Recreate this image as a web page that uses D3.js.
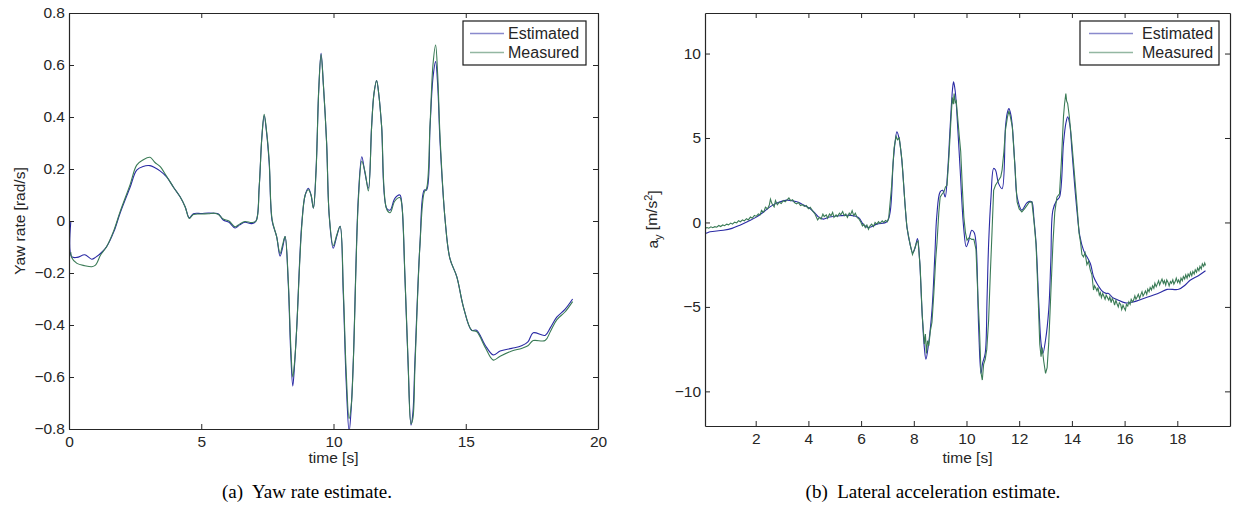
<!DOCTYPE html>
<html>
<head>
<meta charset="utf-8">
<script src="https://cdn.jsdelivr.net/npm/d3@7"></script>
<style>
  body { margin: 0; background: #fff; }
  svg { display: block; }
  .caption { font-family: "Liberation Serif", "Times New Roman", serif; fill: #000; white-space: pre; }
</style>
</head>
<body>
<div id="chart"></div>
<script>
// ----------------------------------
// DATA
// ----------------------------------

// (a) yaw rate [rad/s] vs time [s], as [t, value]
const yawEstimated = [
  [0.07,0.00],[0.1,-0.137],[0.3,-0.14],[0.6,-0.13],[0.86,-0.147],[1.0,-0.14],[1.2,-0.124],[1.42,-0.099],[1.7,-0.04],[1.93,0.03],
  [2.31,0.13],[2.56,0.196],[2.8,0.21],[3.06,0.213],[3.25,0.205],[3.44,0.193],[3.69,0.17],[3.95,0.13],[4.2,0.093],[4.39,0.055],
  [4.55,0.012],[4.7,0.028],[5.0,0.029],[5.27,0.031],[5.5,0.03],[5.65,0.027],[5.83,0.004],[6.05,-0.005],[6.28,-0.027],[6.45,-0.015],
  [6.65,-0.005],[6.91,-0.01],[7.07,0.0],[7.19,0.13],[7.29,0.32],[7.38,0.405],[7.47,0.34],[7.57,0.22],[7.68,0.0],[7.85,-0.06],
  [7.98,-0.135],[8.08,-0.1],[8.17,-0.06],[8.29,-0.24],[8.38,-0.5],[8.46,-0.635],[8.53,-0.55],[8.61,-0.41],[8.8,-0.01],[8.93,0.1],
  [9.05,0.126],[9.15,0.1],[9.24,0.049],[9.34,0.196],[9.44,0.5],[9.53,0.645],[9.62,0.52],[9.74,0.30],[9.84,0.017],[9.99,-0.105],
  [10.12,-0.06],[10.25,-0.02],[10.37,-0.28],[10.48,-0.62],[10.59,-0.81],[10.67,-0.72],[10.75,-0.535],[10.94,0.094],[11.07,0.247],[11.19,0.184],
  [11.32,0.126],[11.44,0.363],[11.53,0.49],[11.63,0.54],[11.72,0.48],[11.82,0.363],[12.01,0.049],[12.14,0.042],[12.32,0.087],[12.51,0.10],
  [12.58,0.068],[12.70,-0.214],[12.82,-0.55],[12.93,-0.785],[13.0,-0.74],[13.08,-0.535],[13.27,-0.086],[13.43,0.119],[13.52,0.119],[13.65,0.363],
  [13.76,0.55],[13.86,0.613],[13.94,0.52],[14.03,0.30],[14.22,0.004],[14.40,-0.144],[14.66,-0.214],[14.91,-0.33],[15.22,-0.42],[15.41,-0.42],
  [15.73,-0.477],[16.04,-0.515],[16.30,-0.50],[16.74,-0.49],[17.11,-0.48],[17.35,-0.465],[17.55,-0.43],[18.0,-0.44],[18.2,-0.41],[18.44,-0.37],
  [18.75,-0.34],[19.04,-0.30]
];
const yawMeasured = [
  [0.07,-0.12],[0.1,-0.14],[0.3,-0.163],[0.6,-0.172],[0.86,-0.176],[1.0,-0.17],[1.2,-0.13],[1.42,-0.099],[1.7,-0.035],[1.93,0.035],
  [2.31,0.14],[2.56,0.215],[2.8,0.235],[3.06,0.245],[3.25,0.225],[3.44,0.21],[3.69,0.172],[3.95,0.13],[4.2,0.093],[4.39,0.055],
  [4.55,0.01],[4.7,0.025],[5.0,0.027],[5.27,0.028],[5.5,0.03],[5.65,0.025],[5.83,0.008],[6.05,0.0],[6.28,-0.022],[6.45,-0.012],
  [6.65,-0.002],[6.91,-0.006],[7.07,0.0],[7.19,0.13],[7.29,0.32],[7.38,0.41],[7.47,0.345],[7.57,0.23],[7.68,0.005],[7.85,-0.06],
  [7.98,-0.125],[8.08,-0.09],[8.17,-0.06],[8.29,-0.23],[8.38,-0.47],[8.46,-0.60],[8.53,-0.54],[8.61,-0.41],[8.8,-0.02],[8.93,0.1],
  [9.05,0.12],[9.15,0.1],[9.24,0.05],[9.34,0.19],[9.44,0.5],[9.53,0.64],[9.62,0.52],[9.74,0.30],[9.84,0.02],[9.99,-0.095],
  [10.12,-0.055],[10.25,-0.02],[10.37,-0.26],[10.48,-0.58],[10.59,-0.76],[10.67,-0.71],[10.75,-0.54],[10.94,0.08],[11.07,0.23],[11.19,0.19],
  [11.32,0.116],[11.44,0.36],[11.53,0.49],[11.63,0.54],[11.72,0.48],[11.82,0.363],[12.01,0.045],[12.14,0.032],[12.32,0.077],[12.51,0.09],
  [12.58,0.065],[12.70,-0.21],[12.82,-0.54],[12.93,-0.78],[13.0,-0.76],[13.08,-0.56],[13.27,-0.09],[13.43,0.11],[13.52,0.125],[13.65,0.37],
  [13.76,0.6],[13.86,0.677],[13.94,0.56],[14.03,0.32],[14.22,0.004],[14.40,-0.144],[14.66,-0.214],[14.91,-0.33],[15.22,-0.42],[15.41,-0.425],
  [15.73,-0.485],[16.04,-0.535],[16.30,-0.52],[16.74,-0.50],[17.11,-0.49],[17.35,-0.48],[17.55,-0.46],[18.0,-0.46],[18.2,-0.425],[18.44,-0.38],
  [18.75,-0.35],[19.04,-0.31]
];

// (b) lateral acceleration a_y [m/s^2] vs time [s], as [t, value]
const latEstimated = [
  [0.08,0.6],[0.1,-0.62],[0.27,-0.55],[0.77,-0.46],[1.1,-0.35],[1.4,-0.16],[1.7,0.06],[2.04,0.33],[2.3,0.62],[2.54,0.92],
  [2.85,1.18],[3.18,1.32],[3.56,1.22],[3.8,1.05],[4.06,0.83],[4.25,0.55],[4.38,0.33],[4.57,0.2],[4.8,0.32],[5.2,0.4],
  [5.6,0.42],[5.9,0.3],[6.1,-0.15],[6.3,-0.3],[6.6,-0.1],[6.98,0.04],[7.1,0.6],[7.23,3.8],[7.36,5.36],[7.45,4.9],
  [7.55,3.6],[7.67,1.0],[7.74,-0.26],[7.86,-1.3],[7.96,-1.8],[8.05,-1.5],[8.14,-0.95],[8.22,-2.2],[8.31,-5.19],[8.40,-7.4],
  [8.46,-8.1],[8.56,-7.2],[8.69,-5.19],[8.8,-1.9],[8.87,0.33],[9.0,1.81],[9.1,1.9],[9.19,1.51],[9.28,2.9],[9.38,5.66],
  [9.47,7.9],[9.51,8.32],[9.57,7.8],[9.63,6.6],[9.76,3.1],[9.89,-0.26],[9.99,-1.44],[10.08,-1.1],[10.2,-0.46],[10.29,-0.6],
  [10.36,-1.2],[10.46,-6.18],[10.55,-8.94],[10.61,-8.34],[10.71,-7.75],[10.78,-4.5],[10.84,-1.24],[10.93,1.5],[11.03,3.2],[11.1,3.1],
  [11.22,2.3],[11.35,2.0],[11.48,5.66],[11.55,6.5],[11.61,6.74],[11.68,6.4],[11.74,5.66],[11.84,3.3],[11.92,1.51],[12.1,0.73],
  [12.29,1.16],[12.4,1.25],[12.48,1.22],[12.56,0.2],[12.64,-1.24],[12.75,-5.0],[12.83,-7.16],[12.9,-7.75],[13.0,-6.96],[13.12,-5.19],
  [13.2,-2.3],[13.28,0.73],[13.43,1.32],[13.53,1.5],[13.68,4.67],[13.77,5.86],[13.84,6.25],[13.92,5.8],[14.0,4.28],[14.1,2.3],
  [14.19,0.73],[14.3,-0.8],[14.44,-1.64],[14.7,-2.43],[14.82,-3.2],[14.95,-3.61],[15.14,-4.05],[15.3,-4.2],[15.39,-4.2],[15.55,-4.45],
  [15.71,-4.56],[16.03,-4.76],[16.34,-4.7],[16.72,-4.5],[17.1,-4.3],[17.35,-4.15],[17.61,-3.96],[18.05,-3.96],[18.3,-3.7],[18.5,-3.41],
  [18.8,-3.15],[19.07,-2.86]
];
const latMeasured = [
  [0.08,-0.36],[0.15,-0.3],[0.22,-0.34],[0.3,-0.26],[0.37,-0.31],[0.45,-0.25],[0.52,-0.28],[0.6,-0.18],[0.67,-0.24],[0.75,-0.15],
  [0.82,-0.19],[0.9,-0.1],[0.97,-0.14],[1.05,-0.04],[1.12,-0.1],[1.2,0.02],[1.28,-0.03],[1.35,0.1],[1.42,0.04],[1.5,0.15],
  [1.57,0.09],[1.65,0.22],[1.72,0.15],[1.8,0.32],[1.87,0.25],[1.95,0.42],[2.02,0.36],[2.1,0.5],[2.17,0.45],[2.22,0.72],
  [2.3,0.6],[2.37,0.9],[2.45,0.8],[2.52,1.05],[2.56,1.38],[2.62,1.1],[2.7,0.92],[2.75,1.3],[2.82,1.05],[2.9,1.2],
  [2.97,1.12],[3.05,1.3],[3.12,1.22],[3.2,1.35],[3.26,1.45],[3.33,1.28],[3.4,1.35],[3.47,1.18],[3.55,1.1],[3.62,1.18],
  [3.7,1.0],[3.77,1.05],[3.85,0.95],[3.92,1.0],[4.0,0.82],[4.07,0.9],[4.15,0.7],[4.25,0.5],[4.35,0.15],[4.42,0.3],
  [4.48,0.2],[4.55,0.5],[4.6,0.35],[4.68,0.45],[4.73,0.25],[4.8,0.5],[4.86,0.4],[4.92,0.6],[4.97,0.3],[5.05,0.45],
  [5.1,0.35],[5.18,0.55],[5.23,0.45],[5.3,0.65],[5.36,0.4],[5.42,0.5],[5.48,0.3],[5.55,0.55],[5.6,0.45],[5.66,0.7],
  [5.72,0.4],[5.78,0.55],[5.85,0.3],[5.92,0.2],[5.98,0.05],[6.05,-0.2],[6.1,-0.1],[6.16,-0.3],[6.22,-0.15],[6.28,-0.4],
  [6.34,-0.2],[6.4,-0.1],[6.47,-0.25],[6.53,0.0],[6.6,-0.1],[6.66,0.05],[6.72,-0.05],[6.8,0.1],[6.86,0.0],[6.93,0.12],
  [7.0,0.05],[7.05,0.3],[7.15,2.0],[7.25,4.4],[7.33,5.1],[7.38,4.9],[7.45,5.0],[7.55,3.7],[7.67,1.0],[7.74,-0.3],
  [7.86,-1.3],[7.95,-1.9],[8.02,-1.6],[8.1,-1.2],[8.16,-1.1],[8.24,-2.6],[8.32,-5.5],[8.4,-7.2],[8.44,-6.6],[8.48,-7.75],
  [8.52,-7.0],[8.57,-7.3],[8.63,-6.4],[8.69,-5.9],[8.76,-4.2],[8.83,-2.2],[8.88,-1.2],[8.95,0.6],[9.0,1.5],[9.08,1.7],
  [9.14,1.8],[9.2,2.1],[9.26,2.2],[9.33,3.8],[9.4,5.8],[9.46,7.4],[9.5,7.0],[9.53,7.63],[9.57,7.1],[9.61,7.2],
  [9.66,6.3],[9.72,5.2],[9.78,4.2],[9.85,1.8],[9.9,0.3],[9.96,-0.6],[10.02,-1.05],[10.1,-0.9],[10.2,-1.0],[10.28,-1.0],
  [10.36,-1.6],[10.43,-4.3],[10.49,-6.2],[10.55,-8.9],[10.6,-9.33],[10.65,-8.4],[10.71,-8.1],[10.77,-7.5],[10.84,-5.78],[10.9,-3.2],
  [10.97,-0.5],[11.03,1.9],[11.1,2.2],[11.22,2.5],[11.3,2.7],[11.35,3.1],[11.42,4.2],[11.48,5.5],[11.55,6.2],[11.61,6.6],
  [11.66,6.3],[11.74,5.66],[11.83,3.5],[11.92,1.22],[12.0,0.8],[12.1,0.63],[12.2,0.8],[12.29,1.0],[12.38,1.2],[12.48,1.22],
  [12.56,0.1],[12.64,-1.3],[12.72,-4.5],[12.78,-7.2],[12.83,-7.95],[12.87,-7.4],[12.93,-8.2],[13.0,-8.94],[13.06,-8.6],[13.12,-7.16],
  [13.2,-4.2],[13.28,-1.24],[13.35,0.6],[13.43,1.5],[13.53,1.7],[13.6,3.6],[13.68,6.25],[13.72,7.0],[13.77,7.63],[13.8,7.2],
  [13.84,7.04],[13.9,6.3],[14.0,4.67],[14.1,2.8],[14.19,1.1],[14.27,-0.6],[14.33,-1.2],[14.38,-1.9],[14.44,-2.04],[14.5,-1.8],
  [14.57,-2.5],[14.63,-2.3],[14.7,-2.82],[14.76,-3.1],[14.82,-4.0],[14.86,-3.75],[14.91,-3.9],[14.95,-4.05],[14.99,-3.85],[15.04,-4.3],
  [15.08,-4.15],[15.12,-4.45],[15.17,-4.2],[15.21,-4.35],[15.26,-4.55],[15.3,-4.3],[15.35,-4.45],[15.4,-4.6],[15.44,-4.4],[15.49,-4.75],
  [15.53,-4.5],[15.58,-4.65],[15.62,-4.9],[15.67,-4.6],[15.71,-4.8],[15.76,-5.0],[15.8,-4.75],[15.85,-4.85],[15.89,-5.15],[15.94,-4.9],
  [15.98,-5.05],[16.03,-5.2],[16.07,-4.85],[16.12,-4.95],[16.16,-4.7],[16.21,-4.85],[16.25,-4.55],[16.3,-4.7],[16.34,-4.6],[16.39,-4.35],
  [16.43,-4.55],[16.48,-4.4],[16.52,-4.25],[16.57,-4.5],[16.61,-4.3],[16.66,-4.1],[16.7,-4.35],[16.75,-4.2],[16.79,-4.05],[16.84,-4.25],
  [16.88,-3.95],[16.93,-4.1],[16.97,-3.85],[17.02,-4.0],[17.06,-3.75],[17.11,-3.9],[17.15,-3.6],[17.2,-3.8],[17.24,-3.65],[17.29,-3.45],
  [17.33,-3.7],[17.38,-3.5],[17.42,-3.35],[17.47,-3.6],[17.51,-3.45],[17.56,-3.7],[17.6,-3.4],[17.65,-3.55],[17.69,-3.75],[17.74,-3.5],
  [17.78,-3.6],[17.83,-3.4],[17.87,-3.65],[17.92,-3.5],[17.96,-3.3],[18.01,-3.55],[18.05,-3.4],[18.1,-3.6],[18.14,-3.3],[18.19,-3.45],
  [18.23,-3.2],[18.28,-3.35],[18.32,-3.1],[18.37,-3.3],[18.41,-3.05],[18.46,-3.2],[18.5,-2.95],[18.55,-3.15],[18.59,-2.9],[18.64,-3.05],
  [18.68,-2.8],[18.73,-2.95],[18.77,-2.7],[18.82,-2.85],[18.86,-2.6],[18.91,-2.75],[18.95,-2.45],[19.0,-2.6],[19.04,-2.4],[19.07,-2.55]
];

// tick values
const yawXTicks = [0, 5, 10, 15, 20];
const yawYTicks = [-0.8, -0.6, -0.4, -0.2, 0, 0.2, 0.4, 0.6, 0.8];
const latXTicks = [2, 4, 6, 8, 10, 12, 14, 16, 18];
const latYTicks = [-10, -5, 0, 5, 10];

const seriesNames = ['Estimated', 'Measured'];
const estColor = '#2a2aa4';
const measColor = '#3a7b56';
const axisColor = '#262626';
const fontFamily = '"Liberation Sans", Arial, Helvetica, sans-serif';

// ----------------------------------
// SVG
// ----------------------------------
const width = 1240, height = 513;
const svg = d3.select('#chart')
  .append('svg')
  .attr('width', width)
  .attr('height', height);

function drawPanel(opt) {
  const x = d3.scaleLinear().domain(opt.xDomain).range([opt.left, opt.right]);
  const y = d3.scaleLinear().domain(opt.yDomain).range([opt.bottom, opt.top]);

  svg.append('clipPath')
    .attr('id', opt.id + '-clip')
    .append('rect')
      .attr('x', opt.left)
      .attr('y', opt.top)
      .attr('width', opt.right - opt.left)
      .attr('height', opt.bottom - opt.top);

  // ----------------------------------
  // LINES
  // ----------------------------------
  const plot = svg.append('g').attr('clip-path', `url(#${opt.id}-clip)`);

  const smooth = d3.line()
    .x(d => x(d[0]))
    .y(d => y(d[1]))
    .curve(d3.curveCatmullRom.alpha(0.5));
  const rough = d3.line()
    .x(d => x(d[0]))
    .y(d => y(d[1]));

  plot.append('path')
    .datum(opt.estimated)
    .attr('d', smooth)
    .attr('fill', 'none')
    .attr('stroke', estColor)
    .attr('stroke-width', 1.1);

  plot.append('path')
    .datum(opt.measured)
    .attr('d', opt.noisy ? rough : smooth)
    .attr('fill', 'none')
    .attr('stroke', measColor)
    .attr('stroke-width', 1.1);

  // ----------------------------------
  // AXES (inward ticks on all four sides)
  // ----------------------------------
  const fmt = d3.format('~g');
  const tick = 5;

  const styleAxis = g => g
    .attr('font-family', fontFamily)
    .attr('font-size', 15.5)
    .attr('color', axisColor)
    .call(s => s.select('.domain').attr('stroke-width', 1.2))
    .call(s => s.selectAll('text').attr('fill', axisColor));

  svg.append('g')
    .attr('transform', `translate(0,${opt.bottom})`)
    .call(d3.axisBottom(x).tickValues(opt.xTicks).tickFormat(fmt).tickSizeInner(-tick).tickSizeOuter(0).tickPadding(7))
    .call(styleAxis);

  svg.append('g')
    .attr('transform', `translate(0,${opt.top})`)
    .call(d3.axisTop(x).tickValues(opt.xTicks).tickFormat('').tickSizeInner(-tick).tickSizeOuter(0))
    .call(styleAxis);

  svg.append('g')
    .attr('transform', `translate(${opt.left},0)`)
    .call(d3.axisLeft(y).tickValues(opt.yTicks).tickFormat(fmt).tickSizeInner(-tick).tickSizeOuter(0).tickPadding(4))
    .call(styleAxis);

  svg.append('g')
    .attr('transform', `translate(${opt.right},0)`)
    .call(d3.axisRight(y).tickValues(opt.yTicks).tickFormat('').tickSizeInner(-tick).tickSizeOuter(0))
    .call(styleAxis);

  // ----------------------------------
  // LABELS
  // ----------------------------------
  svg.append('text')
    .text('time [s]')
    .attr('x', (opt.left + opt.right) / 2)
    .attr('y', 463)
    .attr('text-anchor', 'middle')
    .attr('font-family', fontFamily)
    .attr('font-size', 15.5)
    .attr('fill', axisColor);

  const yMid = (opt.top + opt.bottom) / 2;
  const yl = svg.append('text')
    .attr('x', opt.yLabelX)
    .attr('y', yMid)
    .attr('dy', '0.35em')
    .attr('text-anchor', 'middle')
    .attr('font-family', fontFamily)
    .attr('font-size', 15.5)
    .attr('fill', axisColor)
    .attr('transform', `rotate(-90, ${opt.yLabelX}, ${yMid})`);
  opt.yLabel(yl);

  // ----------------------------------
  // LEGEND
  // ----------------------------------
  const lg = opt.legend;
  const legend = svg.append('g');
  legend.append('rect')
    .attr('x', lg.x).attr('y', lg.y)
    .attr('width', lg.w).attr('height', 44)
    .attr('fill', '#fff')
    .attr('stroke', '#1a1a1a')
    .attr('stroke-width', 1.2);
  [estColor, measColor].forEach((c, i) => {
    const ly = lg.y + 12.5 + i * 19;
    legend.append('line')
      .attr('x1', lg.x + lg.lineStart).attr('x2', lg.x + lg.lineEnd)
      .attr('y1', ly).attr('y2', ly)
      .attr('stroke', c)
      .attr('stroke-opacity', 0.55)
      .attr('stroke-width', 1.3);
    legend.append('text')
      .text(seriesNames[i])
      .attr('x', lg.x + lg.textStart)
      .attr('y', ly)
      .attr('dy', '0.36em')
      .attr('font-family', fontFamily)
      .attr('font-size', 16)
      .attr('fill', axisColor);
  });

  // ----------------------------------
  // CAPTION
  // ----------------------------------
  svg.append('text')
    .classed('caption', true)
    .text(opt.caption)
    .attr('x', opt.captionX)
    .attr('y', 498)
    .attr('text-anchor', 'middle')
    .attr('font-size', 19);
}

drawPanel({
  id: 'yaw',
  xDomain: [0, 20], yDomain: [-0.8, 0.8],
  left: 69, right: 598, top: 13, bottom: 429,
  xTicks: yawXTicks, yTicks: yawYTicks,
  estimated: yawEstimated, measured: yawMeasured, noisy: false,
  yLabelX: 20,
  yLabel: t => t.text('Yaw rate [rad/s]'),
  legend: { x: 463, y: 21, w: 123, lineStart: 7, lineEnd: 41, textStart: 45 },
  caption: '(a)  Yaw rate estimate.',
  captionX: 307
});

drawPanel({
  id: 'lat',
  xDomain: [0.076, 20], yDomain: [-12.05, 12.4],
  left: 705, right: 1230, top: 13, bottom: 426,
  xTicks: latXTicks, yTicks: latYTicks,
  estimated: latEstimated, measured: latMeasured, noisy: true,
  yLabelX: 653,
  yLabel: t => {
    t.append('tspan').text('a');
    t.append('tspan').text('y').attr('font-size', 11).attr('dy', '0.3em');
    t.append('tspan').text(' [m/s').attr('dy', '-0.3em');
    t.append('tspan').text('2').attr('font-size', 11).attr('dy', '-0.45em');
    t.append('tspan').text(']').attr('dy', '0.45em');
  },
  legend: { x: 1080, y: 21, w: 139, lineStart: 9, lineEnd: 53, textStart: 62 },
  caption: '(b)  Lateral acceleration estimate.',
  captionX: 933
});
</script>
</body>
</html>
